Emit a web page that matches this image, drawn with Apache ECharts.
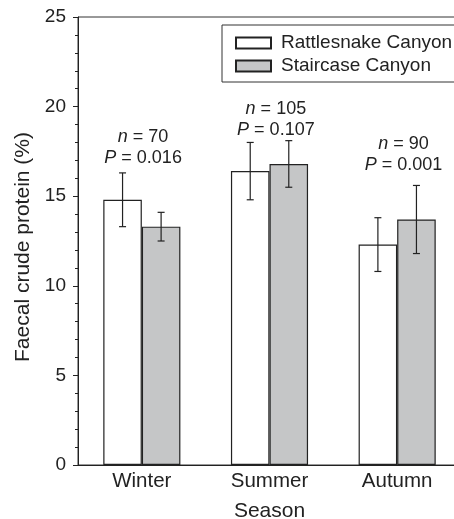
<!DOCTYPE html>
<html>
<head>
<meta charset="utf-8">
<script src="https://cdn.jsdelivr.net/npm/echarts@6/dist/echarts.min.js"></script>
<style>html,body{margin:0;padding:0;background:#fff;}#main{width:454px;height:519px;}</style>
</head>
<body>
<div id="main"></div>
<script>
const categories = ['Winter', 'Summer', 'Autumn'];
const seriesNames = ['Rattlesnake Canyon', 'Staircase Canyon'];
const rattlesnakeMean = [14.8, 16.4, 12.3];
const rattlesnakeErr = [1.5, 1.6, 1.5];
const staircaseMean = [13.3, 16.8, 13.7];
const staircaseErr = [0.8, 1.3, 1.9];
const annoN = ['70', '105', '90'];
const annoP = ['0.016', '0.107', '0.001'];
const annoX = [0.01, 1.05, 2.05];
const annoY = [17.72, 19.27, 17.32];
const yTicks = [0, 5, 10, 15, 20, 25];

const FONT = 'Liberation Sans, Arial, sans-serif';
const FS = 19;
const FS_BIG = 21;
const INK = '#222';
const GAP = 0.396;

const chart = echarts.init(document.getElementById('main'), null, {renderer: 'canvas'});

function errSeries(means, errs, slot, name) {
  return {
    type: 'custom',
    name: name + ' err',
    z: 5,
    silent: true,
    data: means.map((m, i) => [i, m - errs[i], m + errs[i]]),
    renderItem: function (params, api) {
      const band = api.size([1, 0])[0];
      const bw = band * (1 - GAP) / 2;
      const c = api.coord([api.value(0), 0]);
      const x = c[0] + (slot - 0.5) * bw;
      const lo = api.coord([api.value(0), api.value(1)])[1];
      const hi = api.coord([api.value(0), api.value(2)])[1];
      const cap = 3.5;
      const st = {stroke: INK, lineWidth: 1.2};
      return {
        type: 'group',
        children: [
          {type: 'line', shape: {x1: x, y1: lo, x2: x, y2: hi}, style: st},
          {type: 'line', shape: {x1: x - cap, y1: lo, x2: x + cap, y2: lo}, style: st},
          {type: 'line', shape: {x1: x - cap, y1: hi, x2: x + cap, y2: hi}, style: st}
        ]
      };
    }
  };
}

const option = {
  animation: false,
  backgroundColor: '#fff',
  grid: {left: 78, right: -7, top: 17, bottom: 54, show: true, borderColor: '#333', borderWidth: 1,
         containLabel: false, outerBoundsMode: 'none'},
  legend: {
    data: seriesNames,
    orient: 'vertical',
    left: 222,
    top: 25,
    padding: [8, 30, 6, 13],
    itemWidth: 35,
    itemHeight: 11,
    itemGap: 3,
    icon: 'rect',
    borderColor: '#333',
    borderWidth: 1,
    backgroundColor: '#fff',
    textStyle: {fontFamily: FONT, fontSize: FS, color: INK, lineHeight: 20, padding: [0, 0, 0, 5]}
  },
  xAxis: {
    type: 'category',
    data: categories,
    name: 'Season',
    nameLocation: 'middle',
    nameGap: 36,
    nameTextStyle: {fontFamily: FONT, fontSize: FS_BIG, color: INK},
    axisLine: {show: true, lineStyle: {color: INK, width: 1}},
    axisTick: {show: false},
    axisLabel: {fontFamily: FONT, fontSize: FS_BIG - 0.5, color: INK, margin: 6}
  },
  yAxis: {
    type: 'value',
    min: yTicks[0],
    max: yTicks[yTicks.length - 1],
    interval: yTicks[1] - yTicks[0],
    name: 'Faecal crude protein (%)',
    nameLocation: 'middle',
    nameGap: 34,
    nameTextStyle: {fontFamily: FONT, fontSize: 21, color: INK, padding: [0, 12, 0, 0]},
    axisLine: {show: true, lineStyle: {color: INK, width: 1}},
    axisTick: {show: true, inside: false, length: 5, lineStyle: {color: INK}},
    minorTick: {show: true, splitNumber: 5, length: 3, lineStyle: {color: INK}},
    splitLine: {show: false},
    axisLabel: {fontFamily: FONT, fontSize: FS, color: INK, margin: 12}
  },
  series: [
    {
      type: 'bar', name: seriesNames[0], data: rattlesnakeMean,
      barGap: '0%', barCategoryGap: (GAP * 100) + '%',
      itemStyle: {color: '#ffffff', borderColor: INK, borderWidth: 1.2}
    },
    {
      type: 'bar', name: seriesNames[1], data: staircaseMean,
      barGap: '0%', barCategoryGap: (GAP * 100) + '%',
      itemStyle: {color: '#c5c6c7', borderColor: INK, borderWidth: 1.2}
    },
    errSeries(rattlesnakeMean, rattlesnakeErr, 0, seriesNames[0]),
    errSeries(staircaseMean, staircaseErr, 1, seriesNames[1]),
    {
      type: 'custom',
      name: 'annotations',
      silent: true,
      z: 6,
      data: annoY.map((y, i) => [annoX[i], y]),
      renderItem: function (params, api) {
        const i = params.dataIndex;
        const base = api.coord([Math.round(annoX[i]), api.value(1)]);
        const band = api.size([1, 0])[0];
        const x = base[0] + (annoX[i] - Math.round(annoX[i])) * band;
        return {
          type: 'text',
          x: x,
          y: base[1],
          style: {
            text: '{i|n} = ' + annoN[i] + '\n{i|P} = ' + annoP[i],
            align: 'center',
            verticalAlign: 'middle',
            fontFamily: FONT,
            fontSize: 18,
            lineHeight: 21,
            fill: INK,
            rich: {i: {fontStyle: 'italic', fontFamily: FONT, fontSize: 18, lineHeight: 21, fill: INK}}
          }
        };
      }
    }
  ]
};
chart.setOption(option);
</script>
</body>
</html>
